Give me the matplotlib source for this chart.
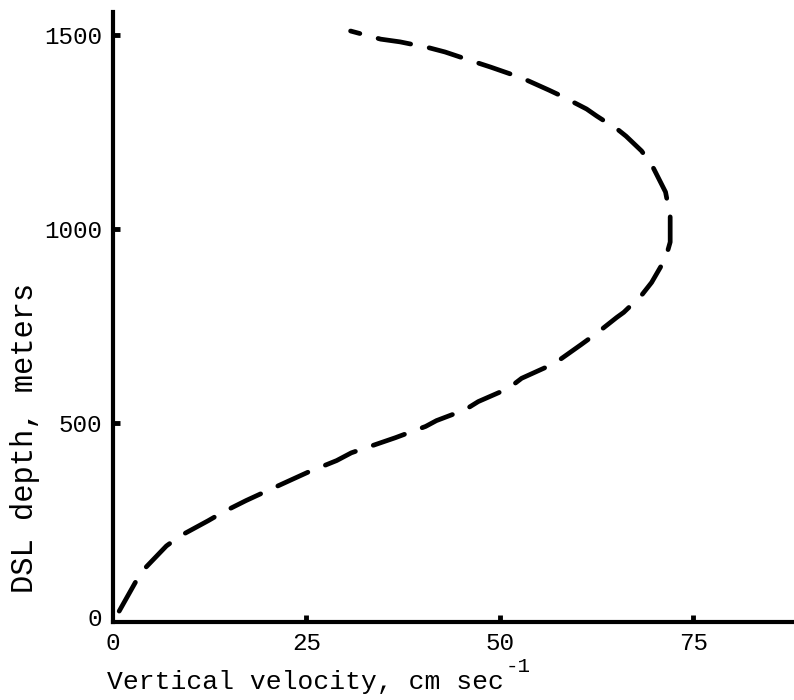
import numpy as np
import matplotlib.pyplot as plt

plt.rcParams['font.family'] = ['Liberation Mono', 'DejaVu Sans Mono']

# vertical velocity (cm/sec) vs DSL depth (m)
velocity = [0.8, 3.0, 4.2, 6.9, 8.7, 12.3, 14.3, 17.2, 19.7, 23.1, 25.3, 28.9,
            30.8, 34.6, 36.5, 40.4, 41.8, 45.5, 47.2, 51.1, 52.8, 55.9, 57.6,
            60.5, 62.5, 65.1, 66.0, 68.3, 69.6, 71.4, 72.0, 72.0, 71.4, 69.7,
            68.3, 66.3, 65.3, 62.5, 61.2, 57.9, 56.3, 53.4, 51.4, 48.8, 46.8,
            42.9, 40.8, 37.1, 34.6, 30.7]
depth = [15, 93, 127, 183, 209, 248, 271, 300, 323, 354, 374, 403,
         423, 449, 462, 491, 506, 534, 555, 589, 615, 643, 661,
         702, 731, 772, 785, 829, 862, 924, 966, 1033, 1095, 1162,
         1201, 1239, 1255, 1291, 1309, 1343, 1358, 1384, 1399, 1417, 1430,
         1456, 1467, 1482, 1489, 1510]

x_ticks = [0, 25, 50, 75]
y_ticks = [0, 500, 1000, 1500]

fig = plt.figure(figsize=(7.94, 7.0), dpi=100)
ax = fig.add_axes([113 / 794, 78 / 700, 681 / 794, 610 / 700])

ax.plot(velocity, depth, color='black', linewidth=3.4,
        linestyle=(0, (7, 4)), dash_capstyle='round')

ax.set_xlim(0, 88)
ax.set_ylim(-13, 1559)
ax.set_xticks(x_ticks)
ax.set_yticks(y_ticks)
ax.set_xticklabels([str(v) for v in x_ticks], fontsize=17.5)
ax.set_yticklabels([str(v) for v in y_ticks], fontsize=17.5)

ax.spines['top'].set_visible(False)
ax.spines['right'].set_visible(False)
ax.spines['left'].set_linewidth(3)
ax.spines['bottom'].set_linewidth(3)

ax.tick_params(axis='both', direction='in', length=5, width=3.5, color='black')
ax.tick_params(axis='x', pad=7)
ax.tick_params(axis='y', pad=8)
# no tick marks at the origin
ax.xaxis.get_major_ticks()[0].tick1line.set_visible(False)
ax.yaxis.get_major_ticks()[0].tick1line.set_visible(False)

fig.text(107 / 794, 1 - 682 / 700, 'Vertical velocity, cm sec',
         fontsize=19, ha='left', va='center')
fig.text(506 / 794, 1 - 666 / 700, '-1', fontsize=15, ha='left', va='center')
fig.text(25 / 794, 1 - 438 / 700, 'DSL depth, meters', fontsize=22,
         rotation=90, ha='center', va='center')

fig.savefig('out.png', dpi=100)
